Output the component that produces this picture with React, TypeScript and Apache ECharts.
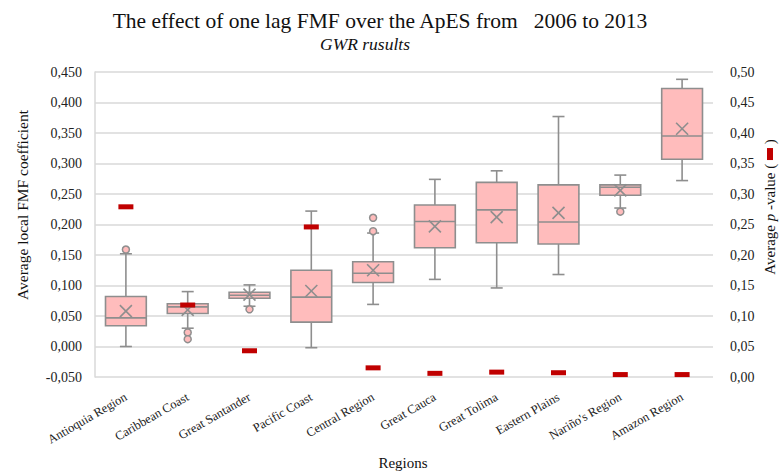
import React, { useEffect, useRef } from "react";
import * as echarts from "echarts";

const categories = [
  "Antioquia Region",
  "Caribbean Coast",
  "Great Santander",
  "Pacific Coast",
  "Central Region",
  "Great Cauca",
  "Great Tolima",
  "Eastern Plains",
  "Nariño's Region",
  "Amazon Region",
];
const whiskerLow = [0.0, 0.03, 0.066, -0.002, 0.069, 0.11, 0.096, 0.118, 0.227, 0.272];
const q1 = [0.034, 0.054, 0.079, 0.04, 0.105, 0.162, 0.17, 0.168, 0.248, 0.307];
const median = [0.047, 0.065, 0.084, 0.081, 0.12, 0.205, 0.224, 0.204, 0.261, 0.345];
const q3 = [0.082, 0.07, 0.089, 0.125, 0.139, 0.232, 0.269, 0.265, 0.265, 0.423];
const whiskerHigh = [0.152, 0.09, 0.101, 0.222, 0.186, 0.274, 0.288, 0.377, 0.281, 0.438];
const mean = [0.058, 0.06, 0.085, 0.091, 0.125, 0.197, 0.212, 0.219, 0.256, 0.357];
const outlierRegion = [0, 1, 1, 2, 4, 4, 8];
const outlierValue = [0.159, 0.023, 0.012, 0.061, 0.211, 0.189, 0.221];
const pValue = [0.279, 0.118, 0.043, 0.246, 0.015, 0.006, 0.008, 0.007, 0.004, 0.004];

const leftTicks = { min: -0.05, max: 0.45, interval: 0.05 };
const rightTicks = { min: 0, max: 0.5, interval: 0.05 };

const SERIF = "'Liberation Serif', 'DejaVu Serif', serif";
const GRAY = "#8e8e8e";
const PINK = "#ffbcbc";
const RED = "#c00000";

export default function App() {
  const ref = useRef<HTMLDivElement>(null);
  useEffect(() => {
    if (!ref.current) return;
    document.body.style.margin = "0";
    const chart = echarts.init(ref.current, undefined, { renderer: "svg" });
    const boxData = categories.map((_, i) => [
      i,
      whiskerLow[i],
      q1[i],
      median[i],
      q3[i],
      whiskerHigh[i],
      mean[i],
    ]);
    const renderItem = (params: any, api: any) => {
      const x = api.value(0);
      const pLow = api.coord([x, api.value(1)]);
      const pQ1 = api.coord([x, api.value(2)]);
      const pMed = api.coord([x, api.value(3)]);
      const pQ3 = api.coord([x, api.value(4)]);
      const pHigh = api.coord([x, api.value(5)]);
      const pMean = api.coord([x, api.value(6)]);
      const cx = pMed[0];
      const hw = api.size([1, 0])[0] * 0.33;
      const cap = 6;
      const mx = 6;
      const ls = { stroke: GRAY, lineWidth: 1.6, fill: null };
      return {
        type: "group",
        children: [
          { type: "line", shape: { x1: cx, y1: pQ3[1], x2: cx, y2: pHigh[1] }, style: ls },
          { type: "line", shape: { x1: cx, y1: pQ1[1], x2: cx, y2: pLow[1] }, style: ls },
          { type: "line", shape: { x1: cx - cap, y1: pHigh[1], x2: cx + cap, y2: pHigh[1] }, style: ls },
          { type: "line", shape: { x1: cx - cap, y1: pLow[1], x2: cx + cap, y2: pLow[1] }, style: ls },
          {
            type: "rect",
            shape: { x: cx - hw, y: pQ3[1], width: 2 * hw, height: pQ1[1] - pQ3[1] },
            style: { fill: PINK, stroke: GRAY, lineWidth: 1.6 },
          },
          { type: "line", shape: { x1: cx - hw, y1: pMed[1], x2: cx + hw, y2: pMed[1] }, style: ls },
          { type: "line", shape: { x1: cx - mx, y1: pMean[1] - mx, x2: cx + mx, y2: pMean[1] + mx }, style: ls },
          { type: "line", shape: { x1: cx - mx, y1: pMean[1] + mx, x2: cx + mx, y2: pMean[1] - mx }, style: ls },
        ],
      };
    };
    const fmt = (d: number) => (v: number) => v.toFixed(d).replace(".", ",");
    chart.setOption({
      animation: false,
      backgroundColor: "#ffffff",
      textStyle: { fontFamily: SERIF },
      grid: { left: 95, right: 70, top: 72, bottom: 98 },
      xAxis: {
        type: "category",
        data: categories,
        boundaryGap: true,
        axisLine: { show: false },
        axisTick: { show: false },
        axisLabel: {
          rotate: 30,
          interval: 0,
          margin: 19,
          fontFamily: SERIF,
          fontSize: 12.5,
          color: "#222",
        },
      },
      yAxis: [
        {
          type: "value",
          ...leftTicks,
          axisLine: { show: true, lineStyle: { color: "#d9d9d9", width: 1.5 } },
          axisTick: { show: false },
          splitLine: { lineStyle: { color: "#d9d9d9", width: 1.5 } },
          axisLabel: { formatter: fmt(3), fontFamily: SERIF, fontSize: 14, color: "#222", margin: 13 },
        },
        {
          type: "value",
          ...rightTicks,
          axisLine: { show: false },
          axisTick: { show: false },
          splitLine: { show: false },
          axisLabel: { formatter: fmt(2), fontFamily: SERIF, fontSize: 14, color: "#222", margin: 17 },
        },
      ],
      series: [
        {
          type: "custom",
          renderItem,
          data: boxData,
          encode: { x: 0, y: [1, 2, 3, 4, 5, 6] },
          z: 2,
        },
        {
          type: "scatter",
          data: outlierRegion.map((r, i) => [r, outlierValue[i]]),
          symbol: "circle",
          symbolSize: 7,
          itemStyle: { color: PINK, borderColor: GRAY, borderWidth: 1.5, opacity: 1 },
          z: 3,
        },
        {
          type: "scatter",
          yAxisIndex: 1,
          data: pValue.map((p, i) => [i, p]),
          symbol: "rect",
          symbolSize: [15, 5],
          itemStyle: { color: RED, opacity: 1 },
          z: 4,
        },
      ],
      graphic: [
        {
          type: "text",
          x: 380,
          y: 21,
          style: {
            text: "The effect of one lag FMF over the ApES from   2006 to 2013",
            font: `21.5px ${SERIF}`,
            fill: "#111",
            textAlign: "center",
            textVerticalAlign: "middle",
          },
        },
        {
          type: "text",
          x: 365,
          y: 44,
          style: {
            text: "GWR rusults",
            font: `italic 17.5px ${SERIF}`,
            fill: "#111",
            textAlign: "center",
            textVerticalAlign: "middle",
          },
        },
        {
          type: "text",
          x: 22,
          y: 205,
          rotation: Math.PI / 2,
          style: {
            text: "Average local FMF coefficient",
            font: `15.5px ${SERIF}`,
            fill: "#111",
            textAlign: "center",
            textVerticalAlign: "middle",
          },
        },
        {
          type: "text",
          x: 770,
          y: 207,
          rotation: Math.PI / 2,
          style: {
            text: "{a|Average }{i|p}{a| -value ( }{m|}{a| )}",
            textAlign: "center",
            textVerticalAlign: "middle",
            rich: {
              a: { font: `15px ${SERIF}`, fill: "#111" },
              i: { font: `italic 15px ${SERIF}`, fill: "#111" },
              m: { width: 12, height: 6, backgroundColor: RED },
            },
          },
        },
        {
          type: "text",
          x: 403,
          y: 463,
          style: {
            text: "Regions",
            font: `15px ${SERIF}`,
            fill: "#111",
            textAlign: "center",
            textVerticalAlign: "middle",
          },
        },
      ],
    });
    return () => chart.dispose();
  }, []);
  return <div ref={ref} style={{ width: 783, height: 475 }} />;
}
